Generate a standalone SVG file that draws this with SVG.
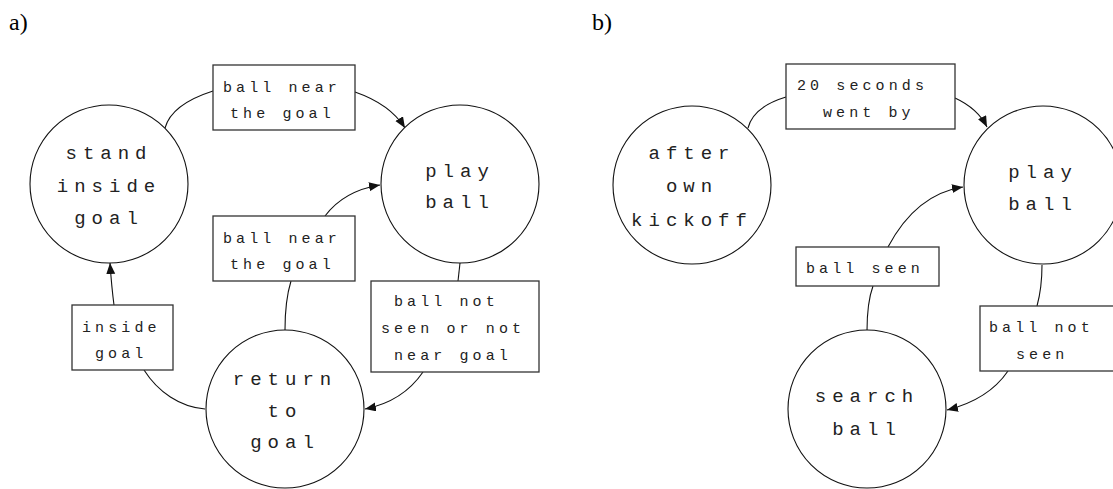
<svg xmlns="http://www.w3.org/2000/svg" width="1113" height="489" viewBox="0 0 1113 489">
  <style>
    .panel { font-family: "Liberation Serif", "Times New Roman", serif; font-size: 24px; fill: #000; }
    .state { fill: #fff; stroke: #111; stroke-width: 1.1; }
    .state-text { font-family: "Liberation Mono", "Courier New", monospace; font-size: 19px; letter-spacing: 6px; fill: #222; text-anchor: middle; }
    .guard { fill: #fff; stroke: #333; stroke-width: 1.3; }
    .guard-text { font-family: "Liberation Mono", "Courier New", monospace; font-size: 15px; letter-spacing: 4.1px; fill: #222; }
    .edge { fill: none; stroke: #111; stroke-width: 1.1; }
  </style>
  <defs>
    <marker id="arrow" markerUnits="userSpaceOnUse" markerWidth="12" markerHeight="10" refX="11" refY="4.5" orient="auto">
      <path d="M0,0 L11,4.5 L0,9 z" fill="#111"/>
    </marker>
  </defs>
  <rect width="1113" height="489" fill="#fff"/>

  <text class="panel" x="9" y="30">a)</text>
  <text class="panel" x="592" y="30">b)</text>

  <!-- transitions -->
  <g id="connectors">
    <!-- a) stand inside goal -> play ball -->
    <path class="edge" d="M165,128 C170,110 188,99 213,91"/>
    <path class="edge" d="M355,92 C378,100 395,112 405,128" marker-end="url(#arrow)"/>
    <!-- a) return to goal -> play ball -->
    <path class="edge" d="M285,330 C285,306 287,294 291,281"/>
    <path class="edge" d="M325,216 C337,200 355,189 380,185" marker-end="url(#arrow)"/>
    <!-- a) play ball -> return to goal -->
    <path class="edge" d="M460,263 L458,281"/>
    <path class="edge" d="M423,372 C410,391 390,404 365,409" marker-end="url(#arrow)"/>
    <!-- a) return to goal -> stand inside goal -->
    <path class="edge" d="M205,409 C180,407 158,392 144,370"/>
    <path class="edge" d="M114,305 C112,290 111,278 110,263" marker-end="url(#arrow)"/>

    <!-- b) after own kickoff -> play ball -->
    <path class="edge" d="M748,128 C752,112 766,103 786,97"/>
    <path class="edge" d="M955,98 C968,104 980,113 987,127" marker-end="url(#arrow)"/>
    <!-- b) search ball -> play ball -->
    <path class="edge" d="M867,331 C867,310 869,297 873,286"/>
    <path class="edge" d="M888,247 C905,215 930,192 963,187" marker-end="url(#arrow)"/>
    <!-- b) play ball -> search ball -->
    <path class="edge" d="M1042,265 C1042,285 1040,295 1037,306"/>
    <path class="edge" d="M1008,371 C995,390 975,403 947,410" marker-end="url(#arrow)"/>
  </g>

  <!-- a) states -->
  <g id="a-stand-inside-goal">
    <circle class="state" cx="109" cy="184" r="79"/>
    <text class="state-text" x="109" y="159">stand</text>
    <text class="state-text" x="109" y="192">inside</text>
    <text class="state-text" x="109" y="224">goal</text>
  </g>
  <g id="a-play-ball">
    <circle class="state" cx="460" cy="184" r="79"/>
    <text class="state-text" x="460" y="177">play</text>
    <text class="state-text" x="460" y="208">ball</text>
  </g>
  <g id="a-return-to-goal">
    <circle class="state" cx="285" cy="409" r="79"/>
    <text class="state-text" x="285" y="385">return</text>
    <text class="state-text" x="285" y="417">to</text>
    <text class="state-text" x="285" y="448">goal</text>
  </g>

  <!-- a) guards -->
  <g id="a-guard-near-goal-1">
    <rect class="guard" x="213" y="65" width="142" height="65"/>
    <text class="guard-text" x="223" y="92">ball near</text>
    <text class="guard-text" x="230" y="118">the goal</text>
  </g>
  <g id="a-guard-near-goal-2">
    <rect class="guard" x="213" y="216" width="142" height="65"/>
    <text class="guard-text" x="223" y="243">ball near</text>
    <text class="guard-text" x="230" y="269">the goal</text>
  </g>
  <g id="a-guard-inside-goal">
    <rect class="guard" x="72" y="305" width="101" height="65"/>
    <text class="guard-text" x="82" y="332">inside</text>
    <text class="guard-text" x="95" y="358">goal</text>
  </g>
  <g id="a-guard-not-seen">
    <rect class="guard" x="371" y="281" width="168" height="91"/>
    <text class="guard-text" x="394" y="306">ball not</text>
    <text class="guard-text" x="381" y="333">seen or not</text>
    <text class="guard-text" x="394" y="360">near goal</text>
  </g>

  <!-- b) states -->
  <g id="b-after-own-kickoff">
    <circle class="state" cx="692" cy="185" r="79"/>
    <text class="state-text" x="692" y="159">after</text>
    <text class="state-text" x="692" y="192">own</text>
    <text class="state-text" x="692" y="226">kickoff</text>
  </g>
  <g id="b-play-ball">
    <circle class="state" cx="1043" cy="185" r="79"/>
    <text class="state-text" x="1043" y="178">play</text>
    <text class="state-text" x="1043" y="210">ball</text>
  </g>
  <g id="b-search-ball">
    <circle class="state" cx="867" cy="409" r="79"/>
    <text class="state-text" x="867" y="402">search</text>
    <text class="state-text" x="867" y="435">ball</text>
  </g>

  <!-- b) guards -->
  <g id="b-guard-20-seconds">
    <rect class="guard" x="786" y="64" width="169" height="65"/>
    <text class="guard-text" x="797" y="90">20 seconds</text>
    <text class="guard-text" x="823" y="117">went by</text>
  </g>
  <g id="b-guard-ball-seen">
    <rect class="guard" x="796" y="247" width="143" height="39"/>
    <text class="guard-text" x="806" y="273">ball seen</text>
  </g>
  <g id="b-guard-ball-not-seen">
    <rect class="guard" x="980" y="306" width="142" height="65"/>
    <text class="guard-text" x="989" y="332">ball not</text>
    <text class="guard-text" x="1016" y="359">seen</text>
  </g>
</svg>
